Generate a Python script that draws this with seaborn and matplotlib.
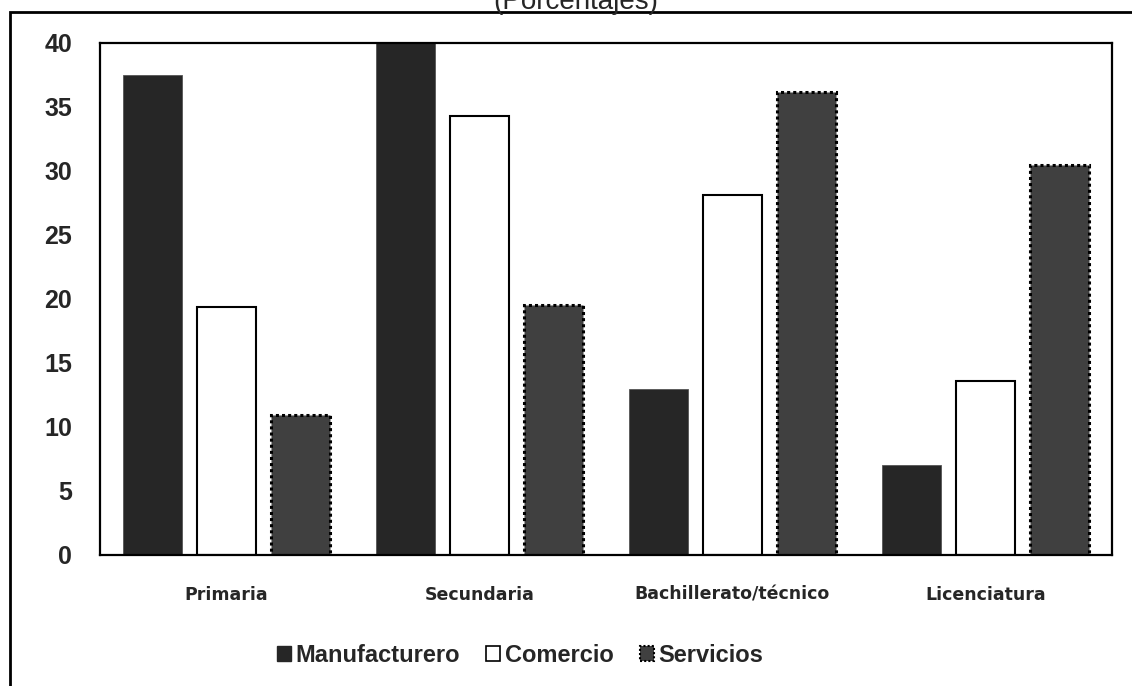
import numpy as np
import pandas as pd
import matplotlib
matplotlib.use("Agg")
import matplotlib.pyplot as plt
from matplotlib.patches import Patch, Rectangle
import seaborn as sns

niveles = ["Primaria", "Secundaria", "Bachillerato/técnico", "Licenciatura"]
sectores = ["Manufacturero", "Comercio", "Servicios"]
manufacturero = [37.5, 40.3, 13.0, 7.0]
comercio = [19.4, 34.3, 28.1, 13.6]
servicios = [10.9, 19.5, 36.2, 30.5]

df = pd.DataFrame({
    "nivel": niveles * 3,
    "sector": [s for s in sectores for _ in niveles],
    "valor": manufacturero + comercio + servicios,
})

sns.set_style("white")
plt.rcParams["font.family"] = ["Liberation Sans", "DejaVu Sans"]

fig = plt.figure(figsize=(11.32, 6.86), dpi=100)
W, H = 1132, 686
ax = fig.add_axes([100 / W, 1 - 555 / H, 1012 / W, 512 / H])

colores = {"Manufacturero": "#262626", "Comercio": "#ffffff", "Servicios": "#404040"}
sns.barplot(data=df, x="nivel", y="valor", hue="sector", order=niveles,
            hue_order=sectores, palette=colores, width=0.877, gap=0.2,
            saturation=1, ax=ax, legend=False, edgecolor="none")

# edges per series
n = len(niveles)
for i, p in enumerate(ax.patches):
    s = i // n
    if s == 1:
        p.set_edgecolor("black")
        p.set_linewidth(1.5)
    elif s == 2:
        p.set_edgecolor("black")
        p.set_linewidth(2.2)
        p.set_linestyle((0, (1, 1)))
    else:
        p.set_edgecolor("#555555")
        p.set_linewidth(0.6)

ax.set_ylim(0, 40)
ax.set_xlim(-0.5, 3.5)
ax.set_yticks(np.arange(0, 41, 5))
ax.set_xlabel("")
ax.set_ylabel("")
ax.tick_params(axis="y", labelsize=18, pad=20, length=0)
ax.tick_params(axis="x", pad=22, length=0)
for t in ax.get_yticklabels():
    t.set_fontweight("bold")
for t in ax.get_xticklabels():
    t.set_fontweight("bold")
    t.set_family("DejaVu Sans")
    t.set_fontsize(12.5)
for sp in ax.spines.values():
    sp.set_visible(True)
    sp.set_color("black")
    sp.set_linewidth(1.6)

handles = [
    Patch(facecolor="#262626", edgecolor="#262626", label="Manufacturero"),
    Patch(facecolor="white", edgecolor="black", linewidth=1.2, label="Comercio"),
    Patch(facecolor="#404040", edgecolor="black", linewidth=1.5,
          linestyle=(0, (1, 1)), label="Servicios"),
]
leg = fig.legend(handles=handles, loc="center", bbox_to_anchor=(520 / W, 1 - 655 / H),
                 ncol=3, frameon=False, handlelength=0.6, handleheight=0.6,
                 handletextpad=0.2, columnspacing=1.1,
                 prop={"weight": "bold", "size": 17})

# outer frame
fig.patches.append(Rectangle((10 / W, -0.1), 1.2, 1.1 - 12 / H, transform=fig.transFigure,
                             fill=False, edgecolor="black", linewidth=2))
fig.text(576 / W, 1 - 9 / H, "(Porcentajes)", ha="center", va="baseline", fontsize=20)

fig.savefig("out.png", dpi=100)
